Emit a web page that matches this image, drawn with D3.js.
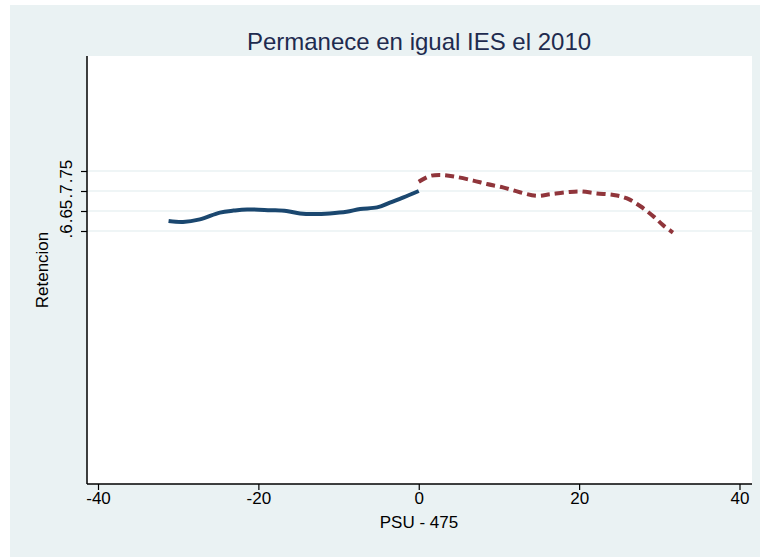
<!DOCTYPE html>
<html>
<head>
<meta charset="utf-8">
<script src="https://cdn.jsdelivr.net/npm/d3@7"></script>
<style>
  html, body { margin: 0; padding: 0; background: #ffffff; }
  svg { display: block; }
  text { font-family: "Liberation Sans", Arial, Helvetica, sans-serif; }
</style>
</head>
<body>
<svg id="chart" width="760" height="557"></svg>
<script>
// ---- Data ----
const titleText = "Permanece en igual IES el 2010";
const xTitle = "PSU - 475";
const yTitle = "Retencion";
const xTicks = [-40, -20, 0, 20, 40];
const yTicks = [0.6, 0.65, 0.7, 0.75];
const yTickLabels = [".6", ".65", ".7", ".75"];

// Left of cutoff (solid blue)
const leftX = [-31.2, -29.4, -27.3, -24.8, -23.1, -21.4, -18.5, -16.5, -14.8, -13.1, -11.1, -9.0, -7.3, -5.2, -3.6, -1.9, 0];
const leftY = [0.625, 0.6225, 0.629, 0.646, 0.651, 0.654, 0.652, 0.650, 0.644, 0.6425, 0.644, 0.648, 0.655, 0.659, 0.671, 0.684, 0.700];

// Right of cutoff (dashed red)
const rightX = [0, 1.4, 2.9, 4.5, 6.8, 8.5, 10.5, 12.6, 14.7, 16.4, 18.5, 20.1, 22.2, 24.3, 25.9, 27.6, 29.3, 30.5, 31.7];
const rightY = [0.723, 0.7375, 0.740, 0.736, 0.726, 0.7175, 0.709, 0.697, 0.688, 0.692, 0.697, 0.699, 0.694, 0.690, 0.682, 0.6625, 0.636, 0.614, 0.596];

// ---- Layout ----
const W = 760, H = 557;
const outer = {x: 10, y: 5};
const plot = {left: 87, right: 752, top: 56, bottom: 484};

const svg = d3.select("#chart");

// Outer background
svg.append("rect").attr("x", outer.x).attr("y", outer.y)
  .attr("width", W - outer.x).attr("height", H - outer.y)
  .attr("fill", "#eaf2f3");

// Plot area
svg.append("rect").attr("x", plot.left).attr("y", plot.top)
  .attr("width", plot.right - plot.left).attr("height", plot.bottom - plot.top)
  .attr("fill", "#ffffff");

const x = d3.scaleLinear().domain([-40, 40]).range([98, 739.5]);
const y = d3.scaleLinear().domain([0.6, 0.75]).range([231, 171]);

// Gridlines
svg.append("g").selectAll("line").data(yTicks).join("line")
  .attr("x1", plot.left).attr("x2", plot.right)
  .attr("y1", d => y(d)).attr("y2", d => y(d))
  .attr("stroke", "#eaf2f3").attr("stroke-width", 1.5);

// Lines
const lineGen = d3.line().x(d => x(d[0])).y(d => y(d[1])).curve(d3.curveCatmullRom.alpha(0.5));
const leftData = leftX.map((v, i) => [v, leftY[i]]);
const rightData = rightX.map((v, i) => [v, rightY[i]]);

svg.append("path").datum(leftData).attr("d", lineGen)
  .attr("fill", "none").attr("stroke", "#1a476f").attr("stroke-width", 4)
  .attr("stroke-linejoin", "round");
svg.append("path").datum(rightData).attr("d", lineGen)
  .attr("fill", "none").attr("stroke", "#90353b").attr("stroke-width", 4)
  .attr("stroke-dasharray", "9,5");

// X axis
const xAxis = d3.axisBottom(x).tickValues(xTicks).tickSize(6).tickPadding(2).tickFormat(d3.format("d"));
const gx = svg.append("g").attr("transform", `translate(0,${plot.bottom})`).call(xAxis);
gx.select(".domain").remove();
gx.append("line").attr("x1", plot.left).attr("x2", plot.right).attr("y1", 0).attr("y2", 0)
  .attr("stroke", "#000").attr("stroke-width", 1.5);
gx.selectAll(".tick line").attr("stroke", "#000").attr("stroke-width", 1.2);
gx.selectAll(".tick text").attr("font-size", 17).attr("fill", "#000")
  .attr("font-family", "Liberation Sans, Arial, sans-serif").text(d => d < 0 ? "-" + Math.abs(d) : d);

// Y axis
const yAxis = d3.axisLeft(y).tickValues(yTicks).tickSize(6).tickFormat((d, i) => yTickLabels[i]);
const gy = svg.append("g").attr("transform", `translate(${plot.left},0)`).call(yAxis);
gy.select(".domain").remove();
gy.append("line").attr("x1", 0).attr("x2", 0).attr("y1", plot.top).attr("y2", plot.bottom)
  .attr("stroke", "#000").attr("stroke-width", 1.5);
gy.selectAll(".tick line").attr("stroke", "#000").attr("stroke-width", 1.2);
gy.selectAll(".tick text")
  .attr("font-size", 17).attr("fill", "#000")
  .attr("font-family", "Liberation Sans, Arial, sans-serif")
  .attr("x", null).attr("dy", null)
  .attr("text-anchor", "middle")
  .attr("transform", "translate(-15.5,0) rotate(-90)");

// Titles
svg.append("text").attr("x", 419).attr("y", 50).attr("text-anchor", "middle")
  .attr("font-size", 24).attr("fill", "#1e2b4f").text(titleText);
svg.append("text").attr("x", 419).attr("y", 528).attr("text-anchor", "middle")
  .attr("font-size", 17).attr("fill", "#000").text(xTitle);
svg.append("text").attr("transform", `translate(48,${(plot.top + plot.bottom) / 2}) rotate(-90)`)
  .attr("text-anchor", "middle").attr("font-size", 17).attr("fill", "#000").text(yTitle);
</script>
</body>
</html>
